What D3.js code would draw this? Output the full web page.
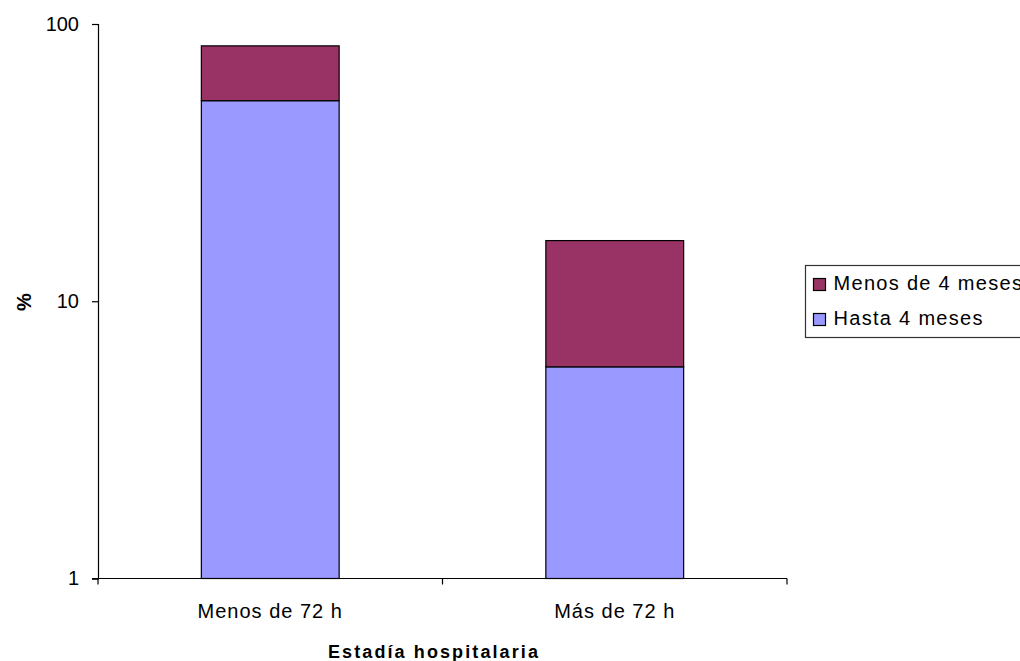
<!DOCTYPE html>
<html>
<head>
<meta charset="utf-8">
<script src="https://cdn.jsdelivr.net/npm/d3@7"></script>
<style>
  html, body { margin: 0; padding: 0; background: #fff; }
  svg { display: block; font-family: "Liberation Sans", Arial, sans-serif; }
</style>
</head>
<body>
<svg id="chart" width="1020" height="661"></svg>
<script>
// Hospital stay categories
const categories = ["Menos de 72 h", "Más de 72 h"];
// Stack order: bottom series first
const seriesNames = ["Hasta 4 meses", "Menos de 4 meses"];
// Percentage contributed by each series (segment size, stacked)
const hastaValues = [52.9, 5.8];
const menosValues = [30.5, 10.75];
const yTicks = [1, 10, 100];
const seriesColors = ["#9999FF", "#993366"];

const rows = categories.map((c, i) => ({
  cat: c,
  "Hasta 4 meses": hastaValues[i],
  "Menos de 4 meses": menosValues[i]
}));

const svg = d3.select("#chart");
const plot = { left: 98, right: 787, top: 24, bottom: 578.5 };

const x = d3.scaleBand()
  .domain(categories)
  .range([plot.left, plot.right])
  .paddingInner(0.6)
  .paddingOuter(0.3);

const y = d3.scaleLog()
  .domain([1, 100])
  .range([plot.bottom, plot.top]);

const color = d3.scaleOrdinal().domain(seriesNames).range(seriesColors);

// Stacked segments; lower bound of first layer sits on the axis floor (1)
const stacked = d3.stack().keys(seriesNames)(rows);

svg.append("g")
  .selectAll("g")
  .data(stacked)
  .join("g")
    .attr("fill", d => color(d.key))
  .selectAll("rect")
  .data(d => d)
  .join("rect")
    .attr("x", d => x(d.data.cat))
    .attr("width", x.bandwidth())
    .attr("y", d => y(d[1]))
    .attr("height", d => y(Math.max(d[0], 1)) - y(d[1]))
    .attr("stroke", "#000")
    .attr("stroke-width", 1.2);

// Y axis
const yAxis = d3.axisLeft(y)
  .tickValues(yTicks)
  .tickFormat(d3.format("d"))
  .tickSize(6)
  .tickPadding(13);

const gy = svg.append("g")
  .attr("transform", `translate(${plot.left},0)`)
  .call(yAxis);
gy.select(".domain").attr("stroke", "#000").attr("stroke-width", 1.2);
gy.selectAll(".tick line").attr("stroke", "#000").attr("stroke-width", 1.2);
gy.selectAll(".tick text")
  .attr("font-size", 20)
  .attr("fill", "#000")
  .attr("font-family", "Liberation Sans, Arial, sans-serif");

// X axis: baseline with ticks at band boundaries
const gx = svg.append("g")
  .attr("transform", `translate(0,${plot.bottom})`);
gx.append("line")
  .attr("x1", plot.left - 6).attr("x2", plot.right)
  .attr("stroke", "#000").attr("stroke-width", 1.2);
const boundaries = [plot.left, (x(categories[0]) + x.bandwidth() + x(categories[1])) / 2, plot.right];
gx.selectAll("line.tk")
  .data(boundaries)
  .join("line")
    .attr("class", "tk")
    .attr("x1", d => d).attr("x2", d => d)
    .attr("y1", 0).attr("y2", 6)
    .attr("stroke", "#000").attr("stroke-width", 1.2);
gx.selectAll("text")
  .data(categories)
  .join("text")
    .attr("x", d => x(d) + x.bandwidth() / 2)
    .attr("y", 39.5)
    .attr("text-anchor", "middle")
    .attr("font-size", 20)
    .attr("letter-spacing", 1)
    .text(d => d);

// Axis titles
svg.append("text")
  .attr("x", 434)
  .attr("y", 658)
  .attr("text-anchor", "middle")
  .attr("font-size", 18)
  .attr("font-weight", "bold")
  .attr("letter-spacing", 2.1)
  .text("Estadía hospitalaria");

svg.append("text")
  .attr("transform", "translate(31,302) rotate(-90)")
  .attr("text-anchor", "middle")
  .attr("font-size", 20)
  .attr("font-weight", "bold")
  .text("%");

// Legend (top series listed first)
const legend = svg.append("g");
legend.append("rect")
  .attr("x", 805.5).attr("y", 265.5)
  .attr("width", 240).attr("height", 72)
  .attr("fill", "#fff")
  .attr("stroke", "#333").attr("stroke-width", 1.2);

const legendItems = seriesNames.slice().reverse();
const li = legend.selectAll("g.item")
  .data(legendItems)
  .join("g")
    .attr("class", "item")
    .attr("transform", (d, i) => `translate(813.5,${278.5 + i * 35})`);
li.append("rect")
  .attr("width", 12).attr("height", 12)
  .attr("fill", d => color(d))
  .attr("stroke", "#000").attr("stroke-width", 1.2);
li.append("text")
  .attr("x", 20)
  .attr("y", 11)
  .attr("font-size", 20)
  .attr("letter-spacing", 1.3)
  .text(d => d);
</script>
</body>
</html>
